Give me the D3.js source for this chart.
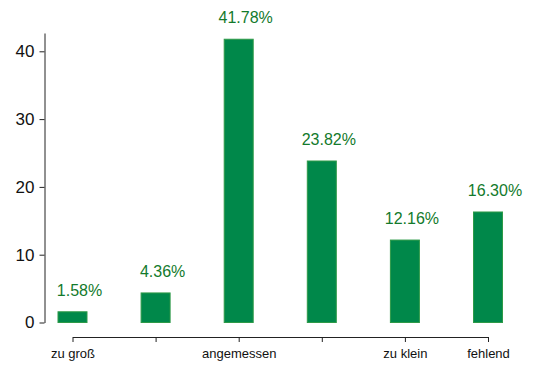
<!DOCTYPE html>
<html><head><meta charset="utf-8">
<script src="https://cdn.jsdelivr.net/npm/d3@7"></script>
<style>body{margin:0;background:#fff}svg{display:block}text{font-family:"Liberation Sans",Arial,Helvetica,sans-serif}</style>
</head><body>
<svg id="c" width="535" height="373"></svg>
<script>
const categories = ["zu groß", "b", "angemessen", "d", "zu klein", "fehlend"];
const tickLabels = ["zu groß", "", "angemessen", "", "zu klein", "fehlend"];
const values = [1.58, 4.36, 41.78, 23.82, 12.16, 16.30];
const yTicks = [0, 10, 20, 30, 40];

const svg = d3.select("#c");
const x = d3.scalePoint().domain(categories).range([72.5, 488]);
const y = d3.scaleLinear().domain([0, 42.7]).range([322.5, 33]);
const barW = 29;

svg.selectAll("rect.bar").data(values).join("rect")
  .attr("x", (d,i) => x(categories[i]) - barW/2)
  .attr("y", d => y(d))
  .attr("width", barW)
  .attr("height", d => y(0) - y(d))
  .attr("fill", "#00884a")
  .attr("stroke", "#2e9a48")
  .attr("stroke-width", 1);

svg.selectAll("text.val").data(values).join("text")
  .attr("x", (d,i) => x(categories[i]) + 7)
  .attr("y", d => y(d) - 16)
  .attr("text-anchor", "middle")
  .attr("font-size", 16)
  .attr("fill", "#137a2c")
  .text(d => d.toFixed(2) + "%");

// y axis
const yAxis = d3.axisLeft(y).tickValues(yTicks).tickSize(5).tickSizeOuter(0).tickPadding(5);
const gy = svg.append("g").attr("transform", "translate(44.5,0)").call(yAxis);
gy.selectAll("text").attr("font-size", 17).attr("fill", "#111").attr("font-family", "Liberation Sans, Arial, sans-serif");
gy.selectAll("line,path").attr("stroke", "#222");

// x axis
const xAxis = d3.axisBottom(x).tickSize(5).tickSizeOuter(0).tickPadding(7).tickFormat((d,i) => tickLabels[i]);
const gx = svg.append("g").attr("transform", "translate(0,337)").call(xAxis);
gx.selectAll("text").attr("font-size", 13).attr("fill", "#111").attr("font-family", "Liberation Sans, Arial, sans-serif");
gx.selectAll("line,path").attr("stroke", "#222");
</script>
</body></html>
